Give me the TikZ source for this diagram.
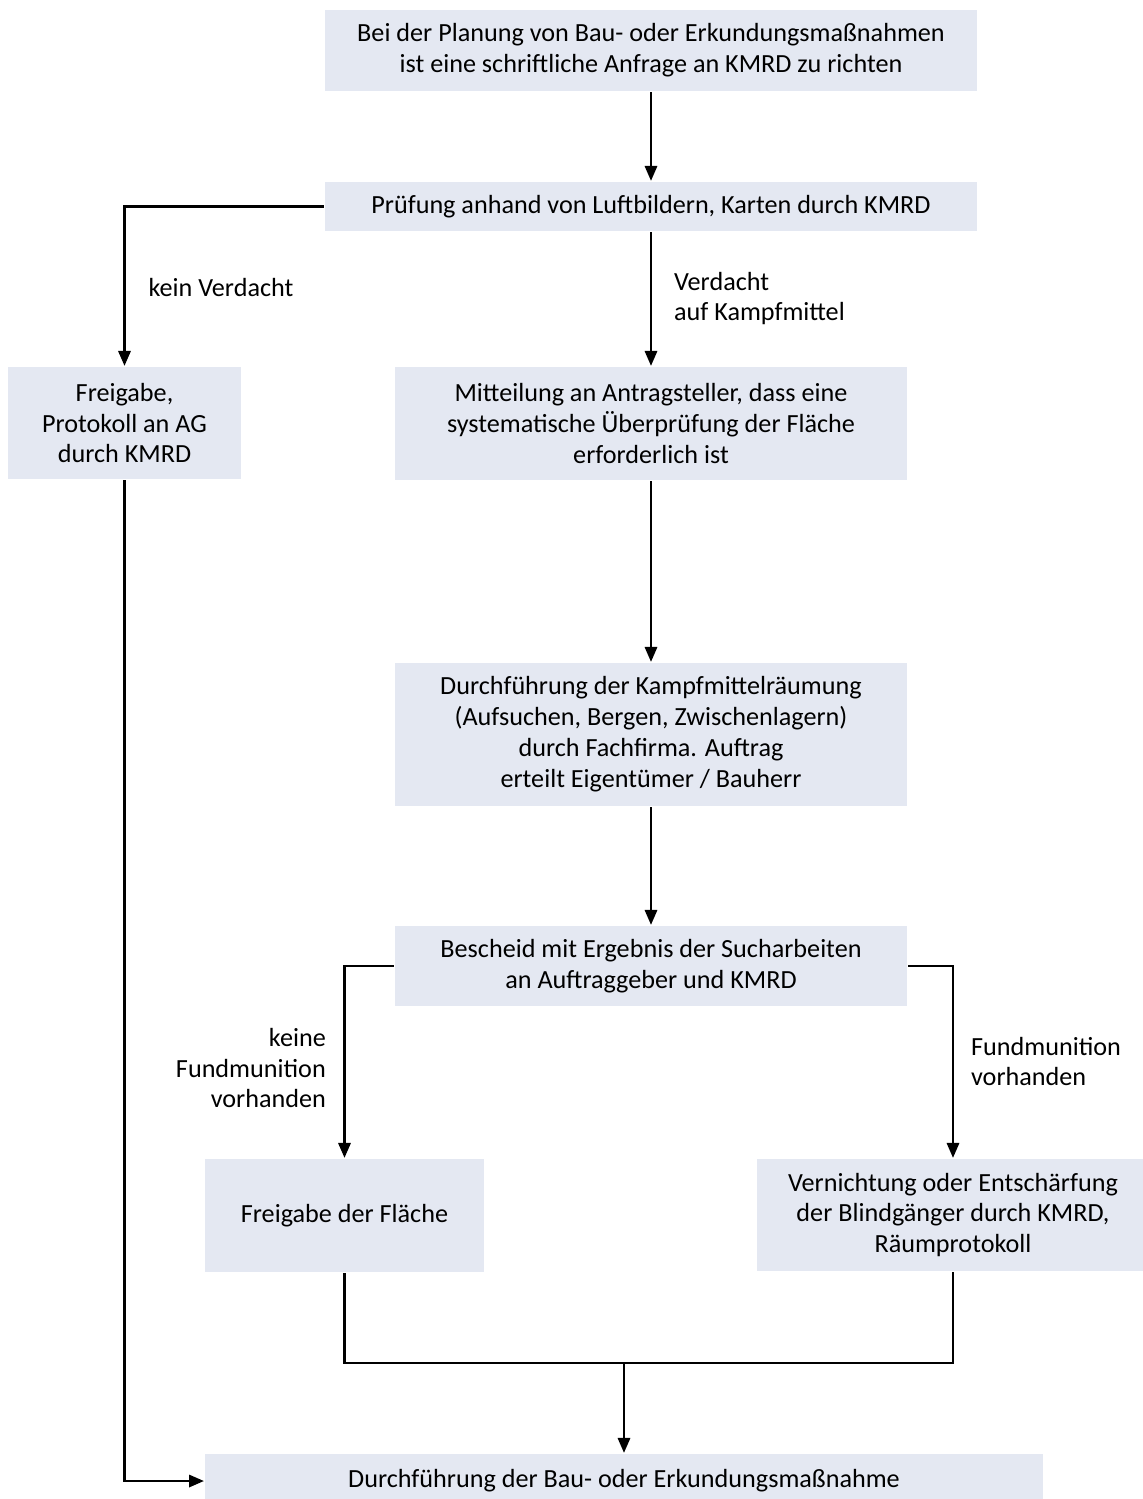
\documentclass[tikz,border=0pt]{standalone}
\usepackage{fontspec}
\setmainfont{Carlito}
\usetikzlibrary{arrows.meta}
\definecolor{boxblue}{HTML}{E4E8F2}
\tikzset{
	stepbox/.style={fill=boxblue, inner sep=0pt, align=center, font=\fontsize{14.9}{17.6}\selectfont},
	lbl/.style={inner sep=0pt, font=\fontsize{14.9}{17.6}\selectfont},
}
\begin{document}
\begin{tikzpicture}[x=0.02cm, y=-0.02cm, line width=1.3pt, line join=miter, >={Triangle[length=8.5pt,width=7pt]}]
	\useasboundingbox (0,0) rectangle (1143,1499);
	\node[stepbox, minimum width=13.04cm, minimum height=1.62cm] (anfrage) at (651,50.5) {Bei der Planung von Bau- oder Erkundungsmaßnahmen\\ist eine schriftliche Anfrage an KMRD zu richten};
	\node[stepbox, minimum width=13.04cm, minimum height=0.98cm] (pruef) at (651,206.5) {Prüfung anhand von Luftbildern, Karten durch KMRD};
	\node[stepbox, minimum width=4.66cm, minimum height=2.24cm] (frei) at (124.5,423) {Freigabe,\\Protokoll an AG\\durch KMRD};
	\node[stepbox, minimum width=10.24cm, minimum height=2.26cm] (mitt) at (651,423.5) {Mitteilung an Antragsteller, dass eine\\systematische Überprüfung der Fläche\\erforderlich ist};
	\node[stepbox, minimum width=10.24cm, minimum height=2.86cm] (raeum) at (651,734.5) {Durchführung der Kampfmittelräumung\\(Aufsuchen, Bergen, Zwischenlagern)\\durch Fachfirma. Auftrag\\erteilt Eigentümer / Bauherr};
	\node[stepbox, minimum width=10.24cm, minimum height=1.6cm] (bescheid) at (651,966) {Bescheid mit Ergebnis der Sucharbeiten\\an Auftraggeber und KMRD};
	\node[stepbox, minimum width=5.58cm, minimum height=2.26cm] (flaeche) at (344.5,1215.5) {Freigabe der Fläche};
	\node[stepbox, minimum width=7.84cm, minimum height=2.24cm] (vernicht) at (953,1215) {Vernichtung oder Entschärfung\\der Blindgänger durch KMRD,\\Räumprotokoll};
	\node[stepbox, minimum width=16.76cm, minimum height=1.08cm] (bau) at (624,1481) {Durchführung der Bau- oder Erkundungsmaßnahme};
	\coordinate (treff) at (624,1363);
	\foreach \a/\b in {anfrage/pruef, pruef/mitt, mitt/raeum, raeum/bescheid}
		\draw[->] (\a) -- (\b);
	\draw[->] (pruef.west) -| (frei.north);
	\draw[->] (bescheid.west) -| (flaeche.north);
	\draw[->] (bescheid.east) -| (vernicht.north);
	\draw (flaeche.south) |- (vernicht.south |- treff) -- (vernicht.south);
	\draw[->] (treff) -- (bau);
	\draw[->] (frei.south) |- (bau.west);
	\node[lbl] (keinv) at (221,287) {kein Verdacht};
	\node[lbl, anchor=west, align=left] (verd) at (673,298.5) {Verdacht\\auf Kampfmittel};
	\node[lbl, anchor=east, align=right] (keinf) at (327,1068) {keine\\Fundmunition\\vorhanden};
	\node[lbl, anchor=west, align=left] (fund) at (970,1061.5) {Fundmunition\\vorhanden};
\end{tikzpicture}
\end{document}
